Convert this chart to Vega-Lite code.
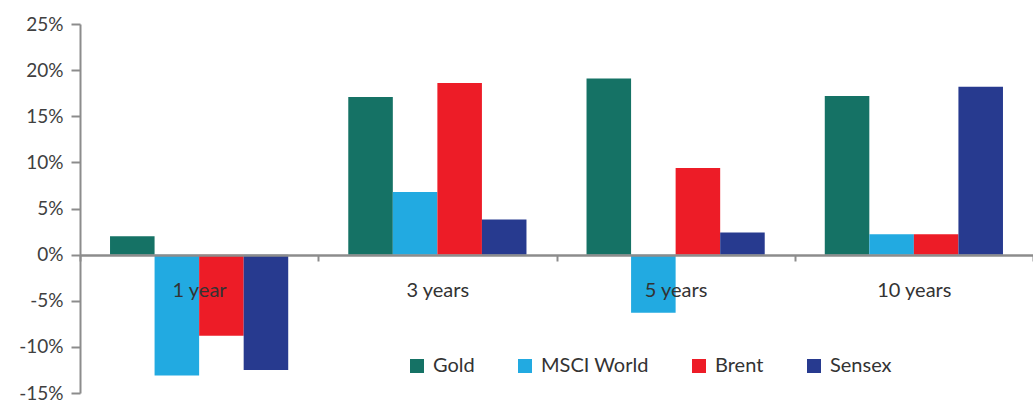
{
  "$schema": "https://vega.github.io/schema/vega-lite/v6.json",
  "width": 953,
  "height": 369,
  "autosize": {"type": "none"},
  "padding": {"left": 80, "top": 24, "right": 0, "bottom": 7},
  "background": "white",
  "config": {"view": {"stroke": null}, "font": "Lato"},
  "data": {
    "values": [
      {"period": "1 year", "series": "Gold", "value": 2.0},
      {"period": "1 year", "series": "MSCI World", "value": -13.1},
      {"period": "1 year", "series": "Brent", "value": -8.8},
      {"period": "1 year", "series": "Sensex", "value": -12.5},
      {"period": "3 years", "series": "Gold", "value": 17.1},
      {"period": "3 years", "series": "MSCI World", "value": 6.8},
      {"period": "3 years", "series": "Brent", "value": 18.6},
      {"period": "3 years", "series": "Sensex", "value": 3.8},
      {"period": "5 years", "series": "Gold", "value": 19.1},
      {"period": "5 years", "series": "MSCI World", "value": -6.3},
      {"period": "5 years", "series": "Brent", "value": 9.4},
      {"period": "5 years", "series": "Sensex", "value": 2.4},
      {"period": "10 years", "series": "Gold", "value": 17.2},
      {"period": "10 years", "series": "MSCI World", "value": 2.2},
      {"period": "10 years", "series": "Brent", "value": 2.2},
      {"period": "10 years", "series": "Sensex", "value": 18.2}
    ]
  },
  "mark": {"type": "bar"},
  "encoding": {
    "x": {
      "field": "period",
      "type": "nominal",
      "sort": ["1 year", "3 years", "5 years", "10 years"],
      "scale": {"paddingInner": 0, "paddingOuter": 0},
      "axis": {
        "title": null,
        "orient": "bottom",
        "offset": -138,
        "labelAngle": 0,
        "tickBand": "extent",
        "domainColor": "#8c8c8c",
        "domainWidth": 2.5,
        "tickColor": "#8c8c8c",
        "tickWidth": 2,
        "tickSize": 6,
        "labelPadding": 19,
        "labelFontSize": 20,
        "labelColor": "#333333",
        "zindex": 1
      }
    },
    "xOffset": {
      "field": "series",
      "type": "nominal",
      "sort": ["Gold", "MSCI World", "Brent", "Sensex"],
      "scale": {"paddingInner": 0, "paddingOuter": 0.674}
    },
    "y": {
      "field": "value",
      "type": "quantitative",
      "scale": {"domain": [-15, 25], "nice": false, "zero": false},
      "axis": {
        "title": null,
        "grid": false,
        "values": [-15, -10, -5, 0, 5, 10, 15, 20, 25],
        "labelExpr": "datum.value + '%'",
        "labelFontSize": 19,
        "labelColor": "#404040",
        "labelPadding": 8,
        "tickSize": 9,
        "tickColor": "#8c8c8c",
        "tickWidth": 2,
        "domainColor": "#8c8c8c",
        "domainWidth": 2
      }
    },
    "color": {
      "field": "series",
      "type": "nominal",
      "scale": {
        "domain": ["Gold", "MSCI World", "Brent", "Sensex"],
        "range": ["#157265", "#22aae1", "#ed1c27", "#273a8f"]
      },
      "legend": {
        "title": null,
        "orient": "none",
        "legendX": 327,
        "legendY": 332,
        "direction": "horizontal",
        "symbolType": "square",
        "symbolSize": 196,
        "symbolStrokeWidth": 0,
        "labelFontSize": 20,
        "labelColor": "#333333",
        "labelOffset": 6,
        "columnPadding": 40
      }
    }
  }
}
